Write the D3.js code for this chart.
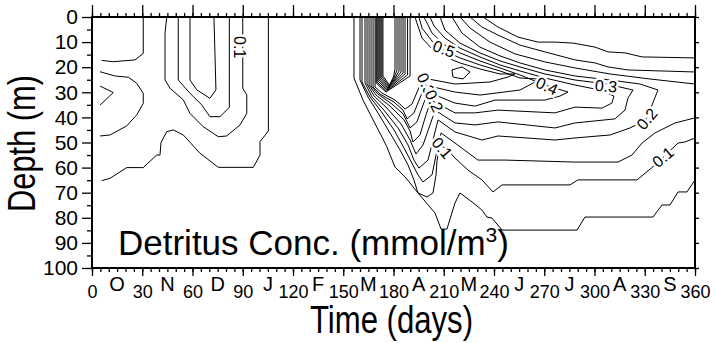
<!DOCTYPE html>
<html>
<head>
<meta charset="utf-8">
<script src="https://cdn.jsdelivr.net/npm/d3@7"></script>
<style>
  body { margin: 0; background: #fff; }
  text { font-family: "Liberation Sans", Arial, Helvetica, sans-serif; }
</style>
</head>
<body>
<div id="chart"></div>
<script>
// axis ticks
var dayTicks = d3.range(0, 361, 30)
var dayMinor = d3.range(0, 361, 5)
var depthTicks = d3.range(0, 101, 10)
var depthMinor = d3.range(5, 100, 10)
var monthLetters = ["O", "N", "D", "J", "F", "M", "A", "M", "J", "J", "A", "S"]
var monthDays = [15, 45, 75, 105, 135, 165, 195, 225, 255, 285, 315, 345]

// contour lines, [day, depth (m)]
// autumn / winter patch
var autumnLines = [
  [[30.6,0],[30.6,14.5],[25.7,17.1],[12.7,17.8],[5.8,17.3]],
  [[4.8,21.8],[13.7,23.5],[21.7,24],[26.7,26.4],[30.6,30.4],[30.6,34.4],[26.7,39],[20.7,43.4],[10.7,47],[4.8,47.4]],
  [[4.8,27.5],[12.7,30.1],[4.8,35.1]],
  [[5.8,65.2],[10.7,64.3],[20.7,60],[30.6,60],[38.6,55],[40.6,55],[41.2,50],[44.6,45.7],[48.5,45],[54.5,47],[64.5,54.3],[75.4,59.9],[96.3,59.9],[100.3,55],[100.3,49.7],[105.3,45.4],[105.3,0]],
  [[44.6,0],[43.6,6.5],[43.6,25.1],[46.6,28.4],[54.5,33],[58.5,38.4],[66.4,43.7],[75.4,47.7],[80.4,47.4],[88.4,43],[92.4,38.4],[92.4,31],[90,28.4],[90,0]],
  [[51.5,0],[51.5,25.1],[58.5,30.4],[65.5,35],[70.4,39.7],[76.4,39.7],[82,36],[82,0]],
  [[58.5,0],[58.5,25.1],[62.5,29],[70.4,32.4],[74,29],[72.8,0]]
]

// spring bloom + summer layer, outer to inner
var bloomLines = [
  [[156.4,0],[156.4,24.3],[161.8,33.1],[167.8,41.0],[173.1,47.8],[176.1,51.8],[180.9,59.8],[186.9,63.7],[194.6,70.1],[204.8,78.1],[208.4,84.5],[211.9,84.5],[216.7,74.1],[219.7,70.1],[226.9,73.7],[232.8,76.9],[235.8,79.7],[238.8,80.1],[244.8,84.9],[289.6,84.9],[294.3,79.7],[334.9,79.7],[340.3,74.9],[345.1,74.9],[349.9,69.7],[355.2,69.7],[360,64.9]],
  [[160.0,0],[160.0,25.1],[164.8,31.9],[170.7,38.2],[177.9,46.2],[183.9,53.0],[188.7,59.0],[192.2,64.9],[194.6,70.1],[200.0,71.7],[203.6,70.1],[205.4,62.9],[206.0,57.0],[207.8,51.0],[212.5,53.0],[216.7,56.2],[224.5,61.0],[232.8,64.9],[239.4,69.7],[244.8,66.9],[285.4,66.9],[290.1,64.9],[325.4,64.9],[336.1,59.0],[349.9,50.2],[354.0,49.8],[360,48.2]],
  [[161.2,0],[161.2,25.9],[166.0,31.9],[172.5,37.5],[180.3,45.0],[186.3,52.2],[191.6,59.0],[194.6,62.9],[197.6,65.7],[203.0,62.9],[206.0,53.0],[208.4,46.2],[216.7,50.2],[230.4,57.0],[246.6,57.0],[288.4,57.8],[314.0,57.8],[322.4,55.0],[328.4,50.2],[336.1,46.2],[348.1,42.2],[360,40.2]],
  [[163.0,0],[163.0,26.3],[167.2,31.9],[174.3,37.1],[182.7,44.2],[188.7,51.0],[192.2,57.0],[195.2,60.2],[200.6,57.0],[203.6,49.0],[206.6,41.0],[216.7,45.8],[232.8,49.0],[242.4,47.4],[276.4,49.0],[288.4,48.2],[309.3,47.0],[321.2,44.2],[328.4,41.8],[331.3,40.2],[334.3,35.1],[337.9,29.1],[327.2,26.7],[309.3,25.1],[288.4,23.5],[270.4,21.1],[255.5,18.3],[243.6,15.5],[231.6,12.0],[220.9,6.4],[214.9,0]],
  [[164.2,0],[164.2,26.7],[168.4,31.5],[176.1,36.3],[184.5,42.6],[189.9,49.0],[193.4,54.6],[197.6,51.0],[201.8,43.0],[204.8,37.1],[216.7,42.2],[228.7,43.0],[242.4,41.8],[276.4,44.2],[288.4,42.2],[312.2,40.6],[318.2,37.1],[320.0,32.3],[323.0,29.1],[315.2,27.9],[307.5,26.7],[288.4,25.1],[270.4,22.7],[255.5,19.9],[243.6,17.5],[231.6,14.3],[219.7,10.4],[210.7,5.2],[207.8,0]],
  [[165.4,0],[165.4,27.1],[169.6,31.1],[177.9,35.5],[186.3,41.0],[189.9,45.4],[191.6,49.8],[195.8,47.0],[199.4,39.0],[202.4,33.1],[216.7,38.2],[228.7,38.2],[242.4,37.1],[276.4,38.2],[288.4,35.9],[304.5,36.3],[310.4,34.3],[311.6,31.5],[303.3,29.1],[288.4,27.1],[270.4,24.3],[255.5,21.5],[243.6,19.1],[231.6,15.9],[219.7,12.4],[210.7,8.4],[204.2,3.6],[201.8,0]],
  [[166.6,0],[166.6,27.5],[170.7,30.7],[179.1,34.7],[185.7,38.6],[189.9,44.2],[194.0,41.8],[197.6,35.1],[200.6,29.9],[216.7,34.3],[228.7,35.5],[240.6,33.1],[270.4,33.1],[279.4,31.5],[284.2,29.9],[276.4,28.3],[270.4,27.1],[255.5,23.1],[243.6,20.3],[231.6,17.5],[219.7,14.3],[210.7,11.2],[203.0,6.4],[198.2,0]],
  [[167.8,0],[167.8,27.9],[171.9,30.7],[180.3,33.9],[185.7,37.1],[188.1,40.6],[192.2,38.2],[195.8,32.3],[198.8,27.1],[216.7,29.9],[231.6,31.1],[255.5,29.1],[264.5,25.9],[266.3,24.7],[255.5,24.3],[243.6,21.5],[231.6,19.1],[219.7,16.3],[210.7,13.5],[203.0,9.6],[197.0,4.4],[195.2,0]],
  [[169.0,0],[169.0,27.9],[173.1,30.3],[180.9,33.1],[184.5,35.1],[186.9,36.7],[191.0,34.7],[194.6,29.1],[197.6,24.3],[216.7,26.7],[237.6,25.9],[248.4,23.9],[252.5,22.7],[243.6,22.7],[231.6,20.7],[219.7,18.3],[210.7,15.9],[203.6,13.1],[197.0,8.4],[192.8,0]],
  // bloom core
  [[169.6,0],[169.6,26.3],[175.5,29.9],[182.7,26.7],[189.9,23.5],[189.9,0]],
  [[170.1,0],[170.1,25.9],[175.8,29.5],[182.1,26.3],[188.4,23.1],[188.4,0]],
  [[170.7,0],[170.7,25.5],[176.1,29.1],[181.5,25.9],[186.9,22.7],[186.9,0]],
  [[171.3,0],[171.3,25.1],[176.4,28.7],[181.2,25.5],[185.7,22.3],[185.7,0]],
  [[171.9,0],[171.9,24.7],[176.7,28.3],[180.9,25.1],[184.5,21.9],[184.5,0]],
  [[172.5,0],[172.5,24.3],[177.0,27.9],[180.6,24.7],[183.3,21.5],[183.3,0]],
  [[173.1,0],[173.1,23.9],[177.3,27.5],[180.3,24.3],[182.1,21.1],[182.1,0]],
  [[173.7,0],[173.7,23.5],[177.6,27.1],[180.0,23.9],[180.9,20.7],[180.9,0]],
  // small closed loop right of the core
  [[214.9,21.1],[220.9,19.9],[225.7,21.9],[221.5,24.7],[215.5,23.9],[214.9,21.1]]
]

// upper branches that run out to the right edge
var upperLines = [
  [[219.7,0],[225.7,4.4],[237.6,10.0],[252.5,14.7],[270.4,17.9],[288.4,20.3],[309.3,22.7],[333.1,24.7],[360,26.7]],
  [[225.7,0],[232.8,4.0],[242.4,7.2],[255.5,11.2],[270.4,13.9],[288.4,17.1],[300.3,18.3],[308.1,19.9],[320.0,21.1],[360,21.9]],
  [[233.4,0],[242.4,4.0],[254.3,8.0],[266.3,10.0],[276.4,10.0],[287.2,10.4],[300.3,12.0],[308.1,13.9],[318.2,14.3],[328.4,15.9],[360,16.3]]
]

// contour annotations [day, depth, text]
var contourLabels = [
  [88.4, 12.0, "0.1"],
  [210.1, 12.7, "0.5"],
  [271.6, 27.5, "0.4"],
  [306.9, 27.5, "0.3"],
  [331.3, 40.6, "0.2"],
  [340.9, 55.8, "0.1"],
  [209.0, 52.2, "0.1"],
  [199.4, 26.7, "0.3"],
  [204.2, 33.5, "0.2"]
]
var labelAngles = [90, 20, 25, 5, -50, -40, 50, 65, 65]

// Margins
var margin = {top: 17, right: 20, bottom: 75, left: 92},
    width = 603,
    height = 251

var svg = d3.select("#chart")
  .append("svg")
  .attr("width", 715)
  .attr("height", 343)

var x = d3.scaleLinear()
  .domain([0, 360])
  .range([margin.left, margin.left + width])

var y = d3.scaleLinear()
  .domain([0, 100])
  .range([margin.top, margin.top + height])

var line = d3.line()
  .x(function(d) { return x(d[0]) })
  .y(function(d) { return y(d[1]) })

// contours
var allLines = autumnLines.concat(bloomLines, upperLines)
svg.append("g")
  .selectAll("path")
  .data(allLines)
  .enter()
  .append("path")
  .attr("d", line)
  .attr("fill", "none")
  .attr("stroke", "#000")
  .attr("stroke-width", 1)
  .attr("stroke-linejoin", "round")

// contour labels, white halo cuts the line like the original
svg.append("g")
  .selectAll("text")
  .data(contourLabels)
  .enter()
  .append("text")
  .attr("transform", function(d, i) {
    return "translate(" + x(d[0]) + "," + y(d[1]) + ") rotate(" + labelAngles[i] + ")"
  })
  .attr("text-anchor", "middle")
  .attr("dy", "0.35em")
  .style("font-size", "16px")
  .style("paint-order", "stroke")
  .attr("stroke", "#fff")
  .attr("stroke-width", 5)
  .attr("fill", "#000")
  .text(function(d) { return d[2] })

// helper to style axis groups
function styleAxis(g, size) {
  g.select(".domain").remove()
  g.selectAll("line").attr("stroke", "#000").attr("stroke-width", 1.3)
  g.attr("font-size", size).attr("font-family", null)
  g.selectAll("text").attr("fill", "#000")
}

// left axis
svg.append("g")
  .attr("transform", "translate(" + margin.left + ",0)")
  .call(d3.axisLeft(y).tickValues(depthTicks).tickSize(10).tickPadding(4))
  .call(styleAxis, 21)
svg.append("g")
  .attr("transform", "translate(" + margin.left + ",0)")
  .call(d3.axisLeft(y).tickValues(depthMinor).tickSize(5).tickFormat(""))
  .call(styleAxis, 21)

// right axis
svg.append("g")
  .attr("transform", "translate(" + (margin.left + width) + ",0)")
  .call(d3.axisRight(y).tickValues(depthTicks).tickSize(4).tickFormat(""))
  .call(styleAxis, 21)

// bottom axis
svg.append("g")
  .attr("transform", "translate(0," + (margin.top + height) + ")")
  .call(d3.axisBottom(x).tickValues(dayTicks).tickSize(8).tickPadding(9))
  .call(styleAxis, 18)
svg.append("g")
  .attr("transform", "translate(0," + (margin.top + height) + ")")
  .call(d3.axisBottom(x).tickValues(dayMinor).tickSize(4).tickFormat(""))
  .call(styleAxis, 18)

// top axis
svg.append("g")
  .attr("transform", "translate(0," + margin.top + ")")
  .call(d3.axisTop(x).tickValues(dayTicks).tickSize(12).tickFormat(""))
  .call(styleAxis, 21)
svg.append("g")
  .attr("transform", "translate(0," + margin.top + ")")
  .call(d3.axisTop(x).tickValues(dayMinor).tickSize(4).tickFormat(""))
  .call(styleAxis, 21)

// month letters between the day numbers
svg.append("g")
  .selectAll("text")
  .data(monthLetters)
  .enter()
  .append("text")
  .attr("x", function(d, i) { return x(monthDays[i]) })
  .attr("y", 291)
  .attr("text-anchor", "middle")
  .style("font-size", "20px")
  .text(function(d) { return d })

// frame
svg.append("rect")
  .attr("x", margin.left)
  .attr("y", margin.top)
  .attr("width", width)
  .attr("height", height)
  .attr("fill", "none")
  .attr("stroke", "#000")
  .attr("stroke-width", 2)

// axis titles
svg.append("text")
  .attr("x", 310)
  .attr("y", 333)
  .attr("textLength", 163)
  .attr("lengthAdjust", "spacingAndGlyphs")
  .style("font-size", "38px")
  .text("Time (days)")

svg.append("text")
  .attr("transform", "translate(35," + 212 + ") rotate(-90)")
  .attr("textLength", 137)
  .attr("lengthAdjust", "spacingAndGlyphs")
  .style("font-size", "38px")
  .text("Depth (m)")

// caption inside the plot
var caption = svg.append("text")
  .attr("x", 118)
  .attr("y", 255)
  .style("font-size", "35px")
caption.append("tspan").text("Detritus Conc. (mmol/m")
caption.append("tspan").attr("dy", -13).style("font-size", "21px").text("3")
caption.append("tspan").attr("dy", 13).text(")")
</script>
</body>
</html>
